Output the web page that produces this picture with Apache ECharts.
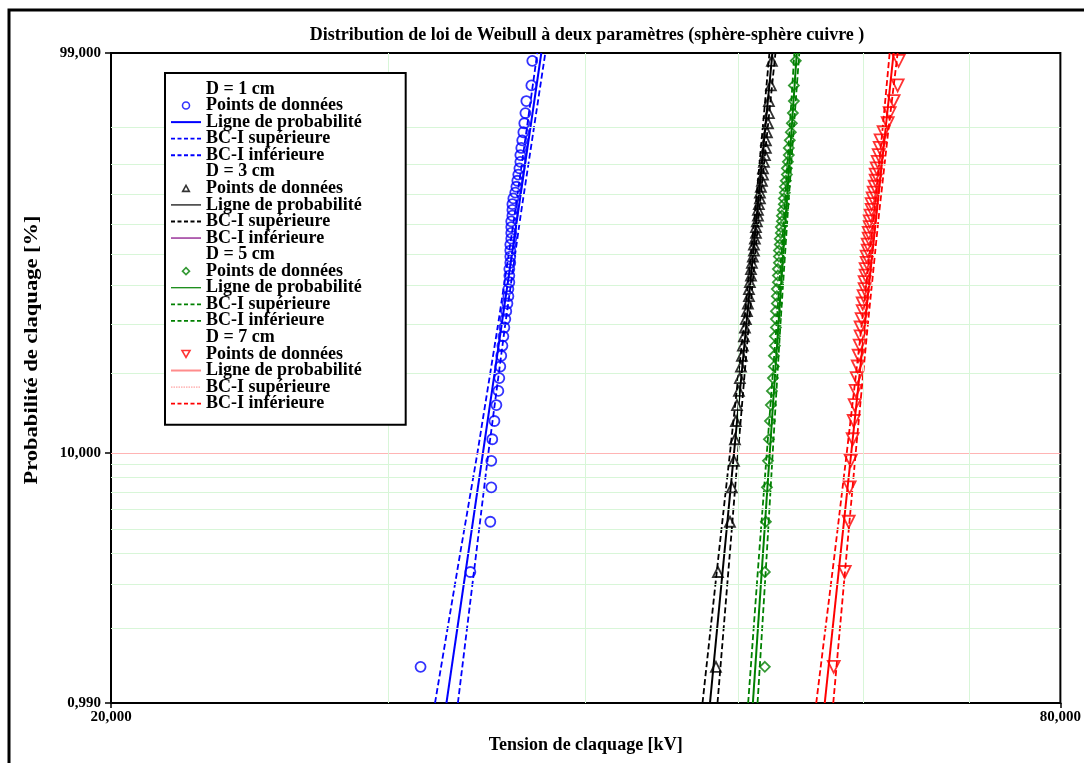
<!DOCTYPE html>
<html><head><meta charset="utf-8">
<script src="https://cdn.jsdelivr.net/npm/echarts/dist/echarts.min.js"></script>
<style>html,body{margin:0;padding:0;background:#fff}#c{width:1084px;height:763px}</style>
</head><body><div id="c"></div>
<script>
// plotting positions (median ranks, n = 50)
const PROB = [0.0139,0.0337,0.0536,0.0734,0.0933,0.1131,0.1329,0.1528,0.1726,0.1925,
0.2123,0.2321,0.2520,0.2718,0.2917,0.3115,0.3313,0.3512,0.3710,0.3909,
0.4107,0.4306,0.4504,0.4702,0.4901,0.5099,0.5298,0.5496,0.5694,0.5893,
0.6091,0.6290,0.6488,0.6687,0.6885,0.7083,0.7282,0.7480,0.7679,0.7877,
0.8075,0.8274,0.8472,0.8671,0.8869,0.9067,0.9266,0.9464,0.9663,0.9861];

// breakdown voltages [kV]
const V_1CM = [31.43,33.80,34.80,34.85,34.85,34.90,35.01,35.11,35.21,35.26,
35.31,35.36,35.42,35.47,35.52,35.57,35.62,35.68,35.73,35.73,
35.78,35.78,35.78,35.83,35.83,35.83,35.83,35.88,35.88,35.88,
35.88,35.94,35.94,35.94,35.99,36.09,36.15,36.20,36.25,36.31,
36.36,36.36,36.41,36.46,36.52,36.57,36.63,36.68,36.95,37.00];
const V_3CM = [48.38,48.52,49.38,49.52,49.67,49.74,49.81,49.89,50.03,50.10,
50.18,50.25,50.32,50.40,50.47,50.54,50.62,50.69,50.77,50.77,
50.84,50.92,50.92,50.99,51.06,51.14,51.14,51.21,51.29,51.29,
51.36,51.44,51.44,51.51,51.59,51.59,51.66,51.74,51.82,51.82,
51.89,51.97,52.04,52.04,52.12,52.20,52.27,52.27,52.42,52.50];
const V_5CM = [51.96,51.96,52.04,52.12,52.20,52.27,52.35,52.42,52.50,52.58,
52.65,52.65,52.73,52.73,52.81,52.81,52.81,52.88,52.88,52.88,
52.96,52.96,52.96,53.04,53.04,53.04,53.11,53.11,53.19,53.19,
53.27,53.27,53.35,53.42,53.42,53.50,53.50,53.58,53.66,53.66,
53.74,53.81,53.81,53.89,53.97,54.05,54.13,54.21,54.21,54.36];
const V_7CM = [57.46,58.39,58.73,58.81,58.90,59.07,59.16,59.24,59.33,59.42,
59.51,59.59,59.68,59.76,59.76,59.85,59.94,59.94,60.02,60.11,
60.11,60.20,60.20,60.29,60.29,60.38,60.38,60.47,60.47,60.56,
60.56,60.64,60.73,60.73,60.82,60.91,61.00,61.09,61.09,61.18,
61.27,61.36,61.45,61.53,61.80,62.17,62.35,62.71,63.08,63.17];

// probability lines (Weibull fit)
const FIT_P = [0.0099, 0.99];
const FIT_1CM = [32.64, 37.49];
const FIT_3CM = [47.96, 52.54];
const FIT_5CM = [51.06, 54.44];
const FIT_7CM = [56.71, 62.71];

// confidence bounds
const BOUND_P = [0.0099, 0.04, 0.10, 0.30, 0.632, 0.90, 0.99];
const SUP_1CM = [32.10, 33.30, 34.15, 35.20, 36.06, 36.72, 37.27];
const INF_1CM = [33.19, 34.09, 34.70, 35.57, 36.38, 37.10, 37.71];
const SUP_3CM = [47.44, 48.58, 49.38, 50.40, 51.21, 51.81, 52.31];
const INF_3CM = [48.49, 49.37, 49.96, 50.76, 51.51, 52.19, 52.77];
const SUP_5CM = [50.71, 51.53, 52.11, 52.86, 53.45, 53.89, 54.25];
const INF_5CM = [51.41, 52.11, 52.56, 53.16, 53.72, 54.21, 54.64];
const SUP_7CM = [56.01, 57.54, 58.56, 59.87, 60.94, 61.73, 62.35];
const INF_7CM = [57.42, 58.55, 59.33, 60.40, 61.38, 62.27, 63.08];

// grid and ticks
const GRID_P = [0.02,0.03,0.04,0.05,0.06,0.07,0.08,0.09,0.10,0.20,0.30,0.40,0.50,0.60,0.70,0.80,0.90];
const GRID_KV = [30, 40, 50, 60, 70];
const Y_TICKS = [0.0099, 0.10, 0.99];
const Y_TICK_LABELS = ['0,990', '10,000', '99,000'];
const X_TICKS = [20, 80];
const X_TICK_LABELS = ['20,000', '80,000'];

const GROUPS = ['D = 1 cm', 'D = 3 cm', 'D = 5 cm', 'D = 7 cm'];
const TITLE = 'Distribution de loi de Weibull à deux paramètres (sphère-sphère cuivre )';
const X_NAME = 'Tension de claquage [kV]';
const Y_NAME = 'Probabilité de claquage [%]';

function w(p){ return Math.log(-Math.log(1 - p)); }
const SERIF = 'Liberation Serif';
const TXT = {fontFamily: SERIF, fontWeight: 'bold', color: '#000'};
const CLEAR = 'rgba(0,0,0,0)';

// legend icons drawn inside a 30x9 box
const BOX = 'M0 0 M30 9 ';
const ICONS = {
  circle: BOX + 'M18.5 4.5 A3.5 3.5 0 1 1 11.5 4.5 A3.5 3.5 0 1 1 18.5 4.5 Z',
  triangle: BOX + 'M11.7 7.5 L15 1.5 L18.3 7.5 Z',
  diamond: BOX + 'M15 1 L18.5 4.5 L15 8 L11.5 4.5 Z',
  triangleDown: BOX + 'M11 1 L19 1 L15 8 Z'
};

const groupDefs = [
  {c:'#0000ff', sym:'circle', icon:ICONS.circle, size:10, rot:0, V:V_1CM, FIT:FIT_1CM, SUP:SUP_1CM, INF:INF_1CM},
  {c:'#000000', sym:'triangle', icon:ICONS.triangle, size:10, rot:0, V:V_3CM, FIT:FIT_3CM, SUP:SUP_3CM, INF:INF_3CM},
  {c:'#008000', sym:'diamond', icon:ICONS.diamond, size:10, rot:0, V:V_5CM, FIT:FIT_5CM, SUP:SUP_5CM, INF:INF_5CM},
  {c:'#ff0000', sym:'triangle', icon:ICONS.triangleDown, size:12, rot:180, V:V_7CM, FIT:FIT_7CM, SUP:SUP_7CM, INF:INF_7CM}
];

const series = [];
const legendData = [];
series.push({
  type:'line', name:'grid', data:[], silent:true, z:1, animation:false,
  markLine:{
    silent:true, symbol:['none','none'], animation:false,
    label:{show:false},
    lineStyle:{type:'solid', color:'#d8f6d8', width:1},
    data: GRID_P.map(p => ({yAxis: w(p), lineStyle: {type:'solid', width:1, color: p === 0.10 ? '#ffb4b4' : '#d8f6d8'}}))
      .concat(GRID_KV.map(v => ({xAxis: v, lineStyle:{type:'solid', width:1, color:'#d8f6d8'}})))
  }
});

const hideSym = {color:CLEAR, borderColor:CLEAR, borderWidth:0, opacity:0};

groupDefs.forEach((g, k) => {
  const sfx = '|' + (k + 1);
  series.push({type:'scatter', name: GROUPS[k], data: []});
  legendData.push({name: GROUPS[k], icon: 'path://' + BOX, itemStyle: hideSym});
  series.push({
    type:'scatter', name:'Points de données' + sfx, z:5,
    symbol:g.sym, symbolSize:g.size, symbolRotate:g.rot,
    itemStyle:{color:CLEAR, borderColor:g.c, borderWidth:1.8},
    data: PROB.map((p, i) => [g.V[i], w(p)])
  });
  legendData.push({name:'Points de données' + sfx, icon:'path://' + g.icon, symbolRotate:0,
    itemStyle:{color:CLEAR, borderColor:g.c, borderWidth:1.6}});
  series.push({
    type:'line', name:'Ligne de probabilité' + sfx, z:4, symbol:'none', showSymbol:false,
    lineStyle:{color:g.c, width:2, type:'solid'}, itemStyle:{color:g.c},
    data: FIT_P.map((p, i) => [g.FIT[i], w(p)])
  });
  series.push({
    type:'line', name:'BC-I supérieure' + sfx, z:4, symbol:'none', showSymbol:false,
    lineStyle:{color:g.c, width:1.8, type:[6,3]}, itemStyle:{color:g.c},
    data: BOUND_P.map((p, i) => [g.SUP[i], w(p)])
  });
  series.push({
    type:'line', name:'BC-I inférieure' + sfx, z:4, symbol:'none', showSymbol:false,
    lineStyle:{color:g.c, width:1.8, type:[6,3]}, itemStyle:{color:g.c},
    data: BOUND_P.map((p, i) => [g.INF[i], w(p)])
  });
  const lp = {name:'Ligne de probabilité' + sfx, itemStyle:hideSym, lineStyle:{color:g.c, width:2, type:'solid'}};
  const ls = {name:'BC-I supérieure' + sfx, itemStyle:hideSym, lineStyle:{color:g.c, width:1.8, type:[4,2.5]}};
  const li = {name:'BC-I inférieure' + sfx, itemStyle:hideSym, lineStyle:{color:g.c, width:1.8, type:[4,2.5]}};
  if (k === 1) { lp.lineStyle = {color:'#000', width:1.2, type:'solid'}; li.lineStyle = {color:'#800080', type:'solid', width:1.2}; }
  if (k === 2) { lp.lineStyle = {color:'#008000', width:1.2, type:'solid'}; }
  if (k === 3) { lp.lineStyle = {color:'#ff8c8c', width:2, type:'solid'};
                 ls.lineStyle = {color:'#ff8c8c', type:[1.5,1], width:1}; }
  legendData.push(lp, ls, li);
});

function nearestLabel(v, ticks, labels, f){
  let best = 0, bd = Infinity;
  ticks.forEach((t, i) => { const d = Math.abs(f(t) - v); if (d < bd) { bd = d; best = i; } });
  return bd < 1e-3 * (Math.abs(v) + 1) ? labels[best] : '';
}

const chart = echarts.init(document.getElementById('c'), null, {renderer:'canvas'});
chart.setOption({
  animation:false,
  backgroundColor:'#fff',
  grid:{left:111, right:22, top:53, bottom:60, show:true, borderColor:'#000', borderWidth:2, backgroundColor:'#fff'},
  legend:{
    orient:'vertical', left:165, top:73, padding:[7, 44, 12, 5], zlevel:1, z:10,
    backgroundColor:'#fff', borderColor:'#000', borderWidth:2,
    itemWidth:30, itemHeight:9, itemGap:-1.44, selectedMode:false,
    symbolKeepAspect:true,
    textStyle:Object.assign({fontSize:18}, TXT),
    formatter: n => n.split('|')[0],
    data: legendData
  },
  xAxis:{
    type:'log', min:20, max:80, logBase:10,
    name:X_NAME, nameLocation:'middle', nameGap:33,
    nameTextStyle:Object.assign({fontSize:18}, TXT),
    axisLine:{show:true, onZero:false, lineStyle:{color:'#000', width:2}},
    axisTick:{show:true, customValues:X_TICKS, length:5, lineStyle:{color:'#000', width:1.5}},
    axisLabel:{customValues:X_TICKS, margin:7, fontSize:15, fontFamily:SERIF, fontWeight:'bold', color:'#000',
      formatter: v => nearestLabel(v, X_TICKS, X_TICK_LABELS, x => x)},
    splitLine:{show:false}, minorSplitLine:{show:false}
  },
  yAxis:{
    type:'value', min:w(0.0099), max:w(0.99),
    axisLine:{show:true, onZero:false, lineStyle:{color:'#000', width:2}},
    axisTick:{show:true, customValues:Y_TICKS.map(w), length:6, lineStyle:{color:'#000', width:1.5}},
    axisLabel:{customValues:Y_TICKS.map(w), margin:10, fontSize:15, fontFamily:SERIF, fontWeight:'bold', color:'#000',
      formatter: v => nearestLabel(v, Y_TICKS, Y_TICK_LABELS, w)},
    splitLine:{show:false}
  },
  graphic:[
    {type:'rect', silent:true, z:100, shape:{x:9, y:10, width:1100, height:800}, style:{fill:null, stroke:'#000', lineWidth:3}},
    {type:'text', silent:true, z:100, x:587, y:35, style:{text:TITLE, fill:'#000', font:'bold 18px "Liberation Serif"', textAlign:'center', textVerticalAlign:'middle'}},
    {type:'text', silent:true, z:100, x:32, y:350, rotation:Math.PI/2, scaleX:1.25,
      style:{text:Y_NAME, fill:'#000', font:'bold 18px "Liberation Serif"', textAlign:'center', textVerticalAlign:'middle'}}
  ],
  series: series
});
</script></body></html>
